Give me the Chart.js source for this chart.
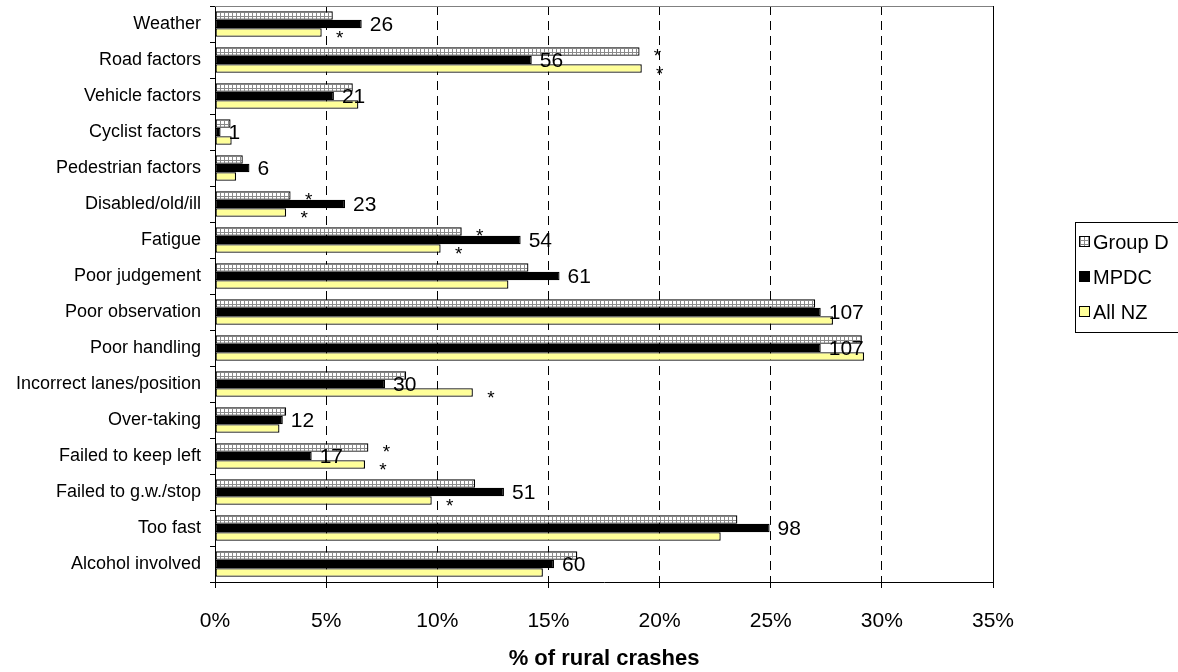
<!DOCTYPE html>
<html>
<head>
<meta charset="utf-8">
<script src="https://cdn.jsdelivr.net/npm/chart.js@4.4.1/dist/chart.umd.min.js"></script>
<style>
  html, body { margin: 0; padding: 0; background: #fff; }
  #wrap { width: 1178px; height: 672px; }
</style>
</head>
<body>
<div id="wrap"><canvas id="chart" width="1178" height="672"></canvas></div>
<script>
const categories = [
  "Weather", "Road factors", "Vehicle factors", "Cyclist factors", "Pedestrian factors",
  "Disabled/old/ill", "Fatigue", "Poor judgement", "Poor observation", "Poor handling",
  "Incorrect lanes/position", "Over-taking", "Failed to keep left", "Failed to g.w./stop",
  "Too fast", "Alcohol involved"
];
// % of rural crashes
const groupD = [5.3, 19.1, 6.2, 0.7, 1.25, 3.4, 11.1, 14.1, 27.0, 29.1, 8.6, 3.2, 6.9, 11.7, 23.5, 16.3];
const mpdc   = [6.6, 14.25, 5.35, 0.25, 1.55, 5.85, 13.75, 15.5, 27.25, 27.25, 7.65, 3.05, 4.35, 13.0, 24.95, 15.25];
const allNZ  = [4.8, 19.2, 6.45, 0.75, 0.95, 3.2, 10.15, 13.2, 27.8, 29.2, 11.6, 2.9, 6.75, 9.75, 22.75, 14.75];
// MPDC crash counts shown at bar ends
const mpdcCounts = [26, 56, 21, 1, 6, 23, 54, 61, 107, 107, 30, 12, 17, 51, 98, 60];
// significance markers (*)
const groupDStar = [0, 1, 0, 0, 0, 1, 1, 0, 0, 0, 0, 0, 1, 0, 0, 0];
const allNZStar  = [1, 1, 0, 0, 0, 1, 1, 0, 0, 0, 1, 0, 1, 1, 0, 0];
const xTicks = [0, 5, 10, 15, 20, 25, 30, 35];

const FONT = '"Liberation Sans", Arial, sans-serif';
const canvas = document.getElementById("chart");
const ctx = canvas.getContext("2d");

// dotted fill for Group D
function dotPattern() {
  const t = document.createElement("canvas");
  t.width = 4; t.height = 4;
  const g = t.getContext("2d");
  g.fillStyle = "#ffffff"; g.fillRect(0, 0, 4, 4);
  g.fillStyle = "#8a8a8a";
  g.fillRect(0, 0, 4, 1);
  g.fillRect(0, 0, 1, 4);
  return ctx.createPattern(t, "repeat");
}
const groupDFill = dotPattern();

const barLabels = {
  id: "barLabels",
  afterDatasetsDraw(chart) {
    const c = chart.ctx;
    c.save();
    // counts on MPDC bars
    c.font = "21px " + FONT;
    c.textBaseline = "middle";
    chart.getDatasetMeta(1).data.forEach((bar, i) => {
      const txt = String(mpdcCounts[i]);
      const w = c.measureText(txt).width;
      c.fillStyle = "#fff";
      c.fillRect(bar.x + 1, bar.y - bar.height / 2 + 1, w + 9, bar.height - 2);
      c.fillStyle = "#000";
      c.fillText(txt, bar.x + 8, bar.y + 1);
    });
    // asterisks
    c.font = "19px " + FONT;
    c.textAlign = "center";
    c.textBaseline = "alphabetic";
    const stars = [[0, groupDStar], [2, allNZStar]];
    stars.forEach(([ds, flags]) => {
      chart.getDatasetMeta(ds).data.forEach((bar, i) => {
        if (flags[i]) c.fillText("*", bar.x + 18, bar.y + 11);
      });
    });
    c.restore();
  },
  afterDraw(chart) {
    const c = chart.ctx;
    const a = chart.chartArea;
    c.save();
    // plot frame top / right
    c.lineWidth = 1;
    c.strokeStyle = "#808080";
    c.beginPath(); c.moveTo(a.left, a.top + 0.5); c.lineTo(a.right, a.top + 0.5); c.stroke();
    c.strokeStyle = "#000";
    c.beginPath(); c.moveTo(Math.round(a.right) + 0.5, a.top); c.lineTo(Math.round(a.right) + 0.5, a.bottom); c.stroke();

    // legend
    const lx = 1075, ly = 222, lh = 110;
    c.fillStyle = "#fff";
    c.fillRect(lx, ly, 120, lh);
    c.strokeStyle = "#000";
    c.strokeRect(lx + 0.5, ly + 0.5, 120, lh);
    c.font = "20px " + FONT;
    c.textBaseline = "middle";
    chart.data.datasets.forEach((ds, i) => {
      const y = 242 + i * 35;
      c.fillStyle = ds.backgroundColor;
      c.fillRect(1079, y - 6, 11, 11);
      c.strokeStyle = "#000";
      c.strokeRect(1079.5, y - 5.5, 10, 10);
      c.fillStyle = "#000";
      c.fillText(ds.label, 1093, y + 1);
    });
    c.restore();
  }
};

new Chart(ctx, {
  type: "bar",
  data: {
    labels: categories,
    datasets: [
      { label: "Group D", data: groupD, backgroundColor: groupDFill },
      { label: "MPDC", data: mpdc, backgroundColor: "#000000" },
      { label: "All NZ", data: allNZ, backgroundColor: "#ffff99" }
    ]
  },
  options: {
    indexAxis: "y",
    responsive: false,
    animation: false,
    devicePixelRatio: 1,
    layout: { padding: { top: 6, right: 185, left: 0, bottom: 0 } },
    datasets: {
      bar: {
        categoryPercentage: 0.71,
        barPercentage: 1.0,
        borderWidth: 1.3,
        borderColor: "#000",
        borderSkipped: false
      }
    },
    plugins: {
      legend: { display: false },
      tooltip: { enabled: false }
    },
    scales: {
      x: {
        min: xTicks[0],
        max: xTicks[xTicks.length - 1],
        afterBuildTicks: s => { s.ticks = xTicks.map(v => ({ value: v })); },
        ticks: {
          callback: v => v + "%",
          color: "#000",
          font: { family: FONT, size: 21 },
          padding: 21,
          maxRotation: 0
        },
        grid: { color: "#000", lineWidth: 1, tickLength: 6, tickColor: "#000", tickBorderDash: [] },
        border: { display: true, color: "#000", width: 1, dash: [9, 6] },
        title: {
          display: true,
          text: "% of rural crashes",
          color: "#000",
          font: { family: FONT, size: 22, weight: "bold" },
          padding: { top: 0, bottom: 0 }
        },
        afterFit: s => { s.height = 90; s.paddingLeft = 0; s.paddingRight = 0; }
      },
      y: {
        ticks: { color: "#000", font: { family: FONT, size: 18 }, padding: 9, autoSkip: false },
        grid: { offset: true, drawOnChartArea: false, tickLength: 5, color: "#000" },
        border: { display: true, color: "#000", width: 1 },
        afterFit: s => { s.width = 215; s.paddingTop = 0; s.paddingBottom = 0; }
      }
    }
  },
  plugins: [barLabels]
});
</script>
</body>
</html>
